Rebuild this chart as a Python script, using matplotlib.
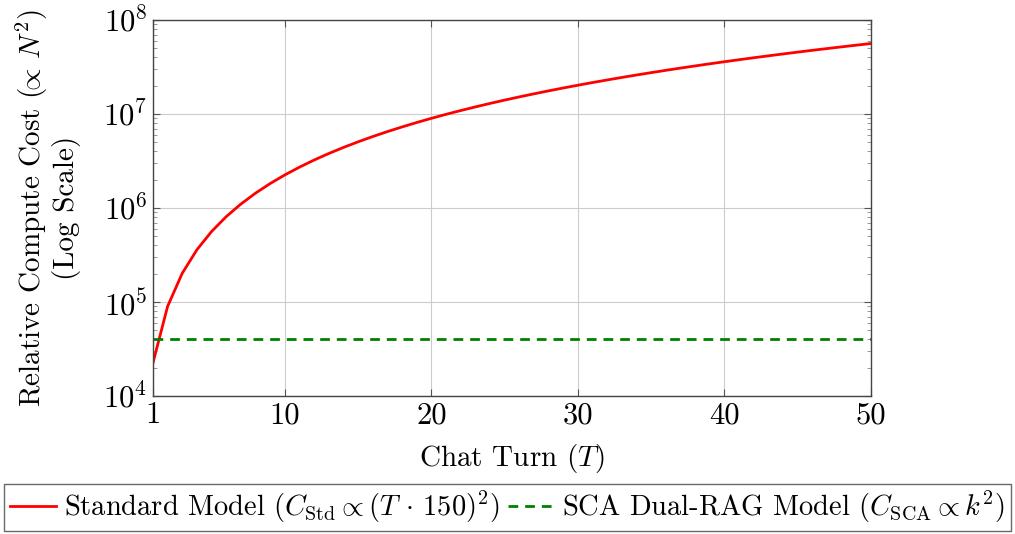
import matplotlib
matplotlib.use("Agg")
import matplotlib.pyplot as plt
from matplotlib.ticker import LogLocator, NullFormatter

plt.rcParams["font.family"] = "serif"
plt.rcParams["font.serif"] = ["cmr10", "DejaVu Serif"]
plt.rcParams["mathtext.fontset"] = "cm"
plt.rcParams["axes.formatter.use_mathtext"] = True

# chat turns and cost values
turns = list(range(1, 51))
std_cost = [
    22500, 90000, 202500, 360000, 562500, 810000, 1102500, 1440000,
    1822500, 2250000, 2722500, 3240000, 3802500, 4410000, 5062500,
    5760000, 6502500, 7290000, 8122500, 9000000, 9922500, 10890000,
    11902500, 12960000, 14062500, 15210000, 16402500, 17640000,
    18922500, 20250000, 21622500, 23040000, 24502500, 26010000,
    27562500, 29160000, 30802500, 32490000, 34222500, 36000000,
    37822500, 39690000, 41602500, 43560000, 45562500, 47610000,
    49702500, 51840000, 54022500, 56250000,
]
sca_turns = [1, 50]
sca_cost = [40000, 40000]

x_ticks = [1, 10, 20, 30, 40, 50]

fig = plt.figure(figsize=(10.15, 5.34), dpi=100)
ax = fig.add_axes([0.1507, 0.2584, 0.7074, 0.7041])

ax.plot(turns, std_cost, color="red", lw=2.0,
        label=r"Standard Model ($C_{\mathrm{Std}} \propto (T\,\cdot\,150)^2$)")
ax.plot(sca_turns, sca_cost, color="#008000", lw=2.0, ls=(0, (3.5, 2.5)),
        label=r"SCA Dual-RAG Model ($C_{\mathrm{SCA}} \propto k^2$)")

ax.set_yscale("log")
ax.set_xlim(1, 50)
ax.set_ylim(1e4, 1e8)
ax.set_xticks(x_ticks)
ax.set_xticklabels([str(t) for t in x_ticks])
ax.yaxis.set_major_locator(LogLocator(base=10, numticks=10))
ax.yaxis.set_minor_locator(LogLocator(base=10, subs=range(2, 10), numticks=20))
ax.yaxis.set_minor_formatter(NullFormatter())

ax.grid(True, which="major", color="#cccccc", lw=0.8)
ax.tick_params(which="both", direction="in", top=True, right=True,
               labelsize=22, color="#555555", pad=4)
ax.tick_params(which="major", length=5, width=0.8)
ax.tick_params(which="minor", length=3, width=0.6, color="#888888")
for s in ax.spines.values():
    s.set_color("#444444")
    s.set_linewidth(1.0)

ax.set_xlabel(r"Chat Turn ($T$)", fontsize=21, labelpad=9)
ax.set_ylabel("Relative Compute Cost ($\\!\\!\\propto\\,N^2$)\n(Log Scale)",
              fontsize=21, labelpad=16, linespacing=1.1)

leg = fig.legend(loc="lower center", bbox_to_anchor=(0.5, 0.0), ncol=2,
                 fontsize=20.5, frameon=True, fancybox=False,
                 edgecolor="#444444", handlelength=1.6, handletextpad=0.3,
                 columnspacing=0.3, borderpad=0.2, borderaxespad=0.1)
leg.get_frame().set_linewidth(1.0)

fig.savefig("out.png", dpi=100)
